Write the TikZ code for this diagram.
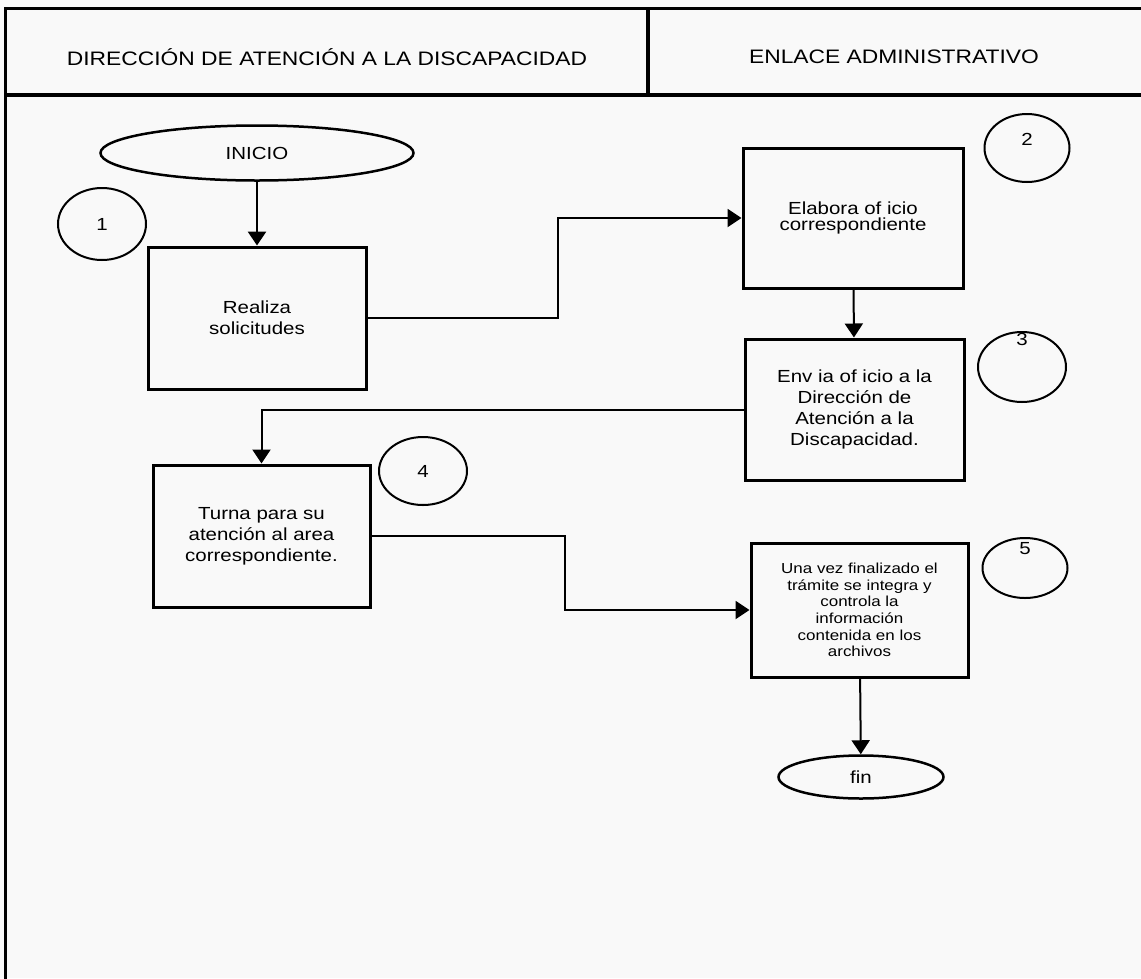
\documentclass[tikz,border=0pt]{standalone}
\usepackage{fontspec}
\newfontfamily\flowfont[FakeStretch=1.17]{Liberation Sans}
\usetikzlibrary{arrows.meta,shapes.geometric}
\definecolor{paper}{HTML}{F9F9F9}

\begin{document}
\begin{tikzpicture}[
  x=1pt, y=-1pt,
  frame/.style={line width=3.5pt},
  lane/.style={font=\flowfont\fontsize{19.5}{23}\selectfont},
  proc/.style={draw, line width=3pt, align=center, inner sep=0pt,
               font=\flowfont\fontsize{17.5}{21}\selectfont},
  term/.style={draw, ellipse, line width=2.5pt, inner sep=0pt,
               font=\flowfont\fontsize{17.5}{21}\selectfont},
  num/.style={draw, ellipse, line width=2pt, inner sep=0pt,
              font=\flowfont\fontsize{17.5}{21}\selectfont},
  numlabel/.style={anchor=north, inner sep=0pt,
              font=\flowfont\fontsize{17.5}{21}\selectfont},
  arr/.style={line width=2pt, -{Triangle[length=14pt,width=18pt]}}
]
\useasboundingbox (0,0) rectangle (1141,978);
\fill[paper] (0,0) rectangle (1141,978);

% swimlane frame
\draw[frame] (5.5,980) -- (5.5,8.5) -- (1145,8.5);
\draw[frame] (5.5,95) -- (1145,95);
\draw[frame] (648,8.5) -- (648,95);
\node[lane] (dir) at (327,57) {DIRECCIÓN DE ATENCIÓN A LA DISCAPACIDAD};
\node[lane] (enl) at (894,57) {ENLACE ADMINISTRATIVO};

% steps
\node[term, minimum width=313pt, minimum height=55pt] (inicio) at (257,153) {INICIO};
\node[proc, minimum width=218pt, minimum height=142pt] (realiza) at (257,318) {Realiza\\solicitudes};
\node[proc, minimum width=220pt, minimum height=140pt,
      font=\flowfont\fontsize{17.5}{16.5}\selectfont] (elabora) at (853,218)
  {Elabora of icio\\correspondiente};
\node[proc, minimum width=219pt, minimum height=141pt] (envia) at (854.5,409.5)
  {Env ia of icio a la\\Dirección de\\Atención a la\\Discapacidad.};
\node[proc, minimum width=217pt, minimum height=142pt] (turna) at (261.5,536)
  {Turna para su\\atención al area\\correspondiente.};
\node[proc, minimum width=217pt, minimum height=134pt,
      font=\flowfont\fontsize{14.5}{16.7}\selectfont] (archiva) at (859.5,610)
  {Una vez finalizado el\\trámite se integra y\\controla la\\información\\contenida en los\\archivos};
\node[term, minimum width=165pt, minimum height=43pt] (fin) at (861,777) {fin};

% step numbers
\node[num, minimum width=88pt, minimum height=72pt] (n1) at (102,224) {1};
\node[num, minimum width=85pt, minimum height=68pt,
      label={[numlabel, yshift=-20pt]north:2}] (n2) at (1027,148) {};
\node[num, minimum width=88pt, minimum height=70pt,
      label={[numlabel, yshift=-2pt]north:3}] (n3) at (1022,367) {};
\node[num, minimum width=88pt, minimum height=68pt] (n4) at (423,471) {4};
\node[num, minimum width=85pt, minimum height=60pt,
      label={[numlabel, yshift=-5pt]north:5}] (n5) at (1025,568) {};

% connectors
\draw[arr, line width=2.8pt] (inicio) -- (realiza);
\draw[arr] (realiza.east) -- ++(190,0) |- (elabora.west);
\draw[arr] (elabora) -- (envia);
\draw[arr] (envia.west) -| (turna.north);
\draw[arr] (turna.east) -- ++(193,0) |- (archiva.west);
\draw[arr] (archiva) -- (fin);
\end{tikzpicture}
\end{document}
